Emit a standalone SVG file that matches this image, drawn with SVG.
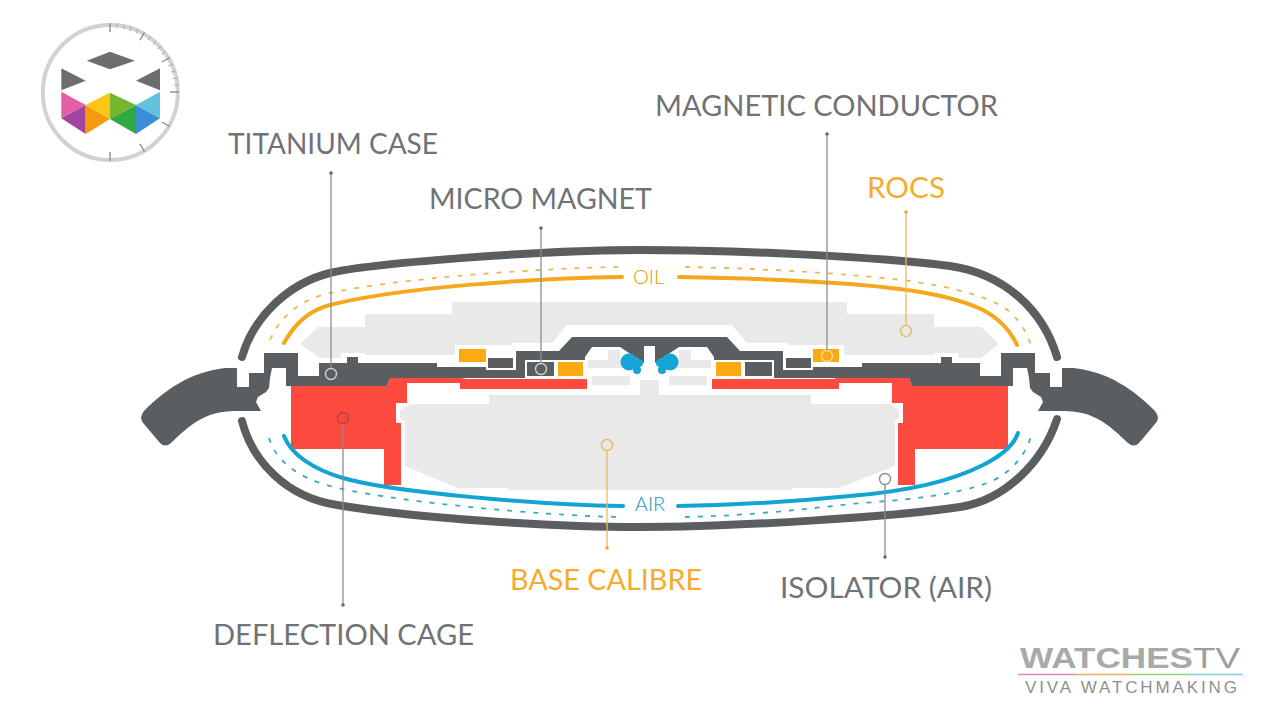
<svg xmlns="http://www.w3.org/2000/svg" width="1280" height="720" viewBox="0 0 1280 720">
<style>
text{font-family:"Lato","Liberation Sans",sans-serif}
.lab{font-size:28px;font-weight:400;fill:#707375}
.org{fill:#f6ab2e}
.dark{fill:#5b5e60}
.gray{fill:#e9e9e9}
.red{fill:#fd4a3f}
.orb{fill:#fca912}
.blu{fill:#12a5d6}
.case{fill:none;stroke:#5b5e60;stroke-width:8;stroke-linecap:round}
.so{fill:none;stroke:#f6a81c;stroke-width:4;stroke-linecap:round}
.sb{fill:none;stroke:#12a5d3;stroke-width:4;stroke-linecap:round}
.do{fill:none;stroke:#f1b44f;stroke-width:1.8;stroke-dasharray:5 8}
.db{fill:none;stroke:#3ba9c4;stroke-width:1.8;stroke-dasharray:5 8}
.lg{stroke:#8b8d8f;stroke-width:1.3;fill:none}
.lo{stroke:#edb85f;stroke-width:1.3;fill:none}
.tick{stroke:#8e8e8e;stroke-width:1.4}
.mt{stroke:#b0b0b0;stroke-width:1}
</style>
<rect width="1280" height="720" fill="#fff"/>

<g id="logo">
<circle cx="110.3" cy="92.5" r="67.5" fill="#fff" stroke="#d2d2d2" stroke-width="4"/>
<g class="mt">
<line x1="110" y1="23" x2="110" y2="28" transform="rotate(6 110 92)"/><line x1="110" y1="23" x2="110" y2="28" transform="rotate(12 110 92)"/><line x1="110" y1="23" x2="110" y2="28" transform="rotate(18 110 92)"/><line x1="110" y1="23" x2="110" y2="28" transform="rotate(24 110 92)"/><line x1="110" y1="23" x2="110" y2="28" transform="rotate(36 110 92)"/><line x1="110" y1="23" x2="110" y2="28" transform="rotate(42 110 92)"/><line x1="110" y1="23" x2="110" y2="28" transform="rotate(48 110 92)"/><line x1="110" y1="23" x2="110" y2="28" transform="rotate(54 110 92)"/><line x1="110" y1="23" x2="110" y2="28" transform="rotate(66 110 92)"/><line x1="110" y1="23" x2="110" y2="28" transform="rotate(72 110 92)"/><line x1="110" y1="23" x2="110" y2="28" transform="rotate(78 110 92)"/><line x1="110" y1="23" x2="110" y2="28" transform="rotate(84 110 92)"/>
</g>
<g class="tick">
<line x1="110" y1="23" x2="110" y2="32"/><line x1="110" y1="23" x2="110" y2="32" transform="rotate(30 110 92)"/><line x1="110" y1="23" x2="110" y2="32" transform="rotate(60 110 92)"/><line x1="110" y1="23" x2="110" y2="32" transform="rotate(90 110 92)"/><line x1="110" y1="23" x2="110" y2="32" transform="rotate(120 110 92)"/><line x1="110" y1="23" x2="110" y2="32" transform="rotate(150 110 92)"/><line x1="110" y1="23" x2="110" y2="32" transform="rotate(180 110 92)"/>
</g>
<g fill="#6d6d6d">
<polygon points="86.7,60.7 110,51.7 135,60.7 110,69.3"/>
<polygon points="61.3,68.3 85.7,80.7 61.3,90.3"/>
<polygon points="160,68.3 136,80.7 160,90.3"/>
</g>
<polygon points="61.3,91.7 85.7,105 61.3,118.3" fill="#e35fa8"/>
<polygon points="85.7,105 61.3,118.3 85.7,134" fill="#a2459e"/>
<polygon points="85.7,105 85.7,134 110,119" fill="#f79a12"/>
<polygon points="85.7,105 110,92.7 110,119" fill="#fcc614"/>
<polygon points="110,92.7 136,105 110,119" fill="#74b72e"/>
<polygon points="136,105 110,119 136,134" fill="#2fa940"/>
<polygon points="136,105 136,134 160,118.3" fill="#3c8ed6"/>
<polygon points="136,105 160,91.7 160,118.3" fill="#62c4dc"/>
</g>

<g id="base-calibre-body">
<path class="gray" d="M300,344 L318,327 H365 V314 H452 V302 H847 V314 H934 V327 H981 L999,344 L981,358 H958 V353 H934 V355 H844 V345 H788 V343 H747 L732,325 H567 L552,343 H511 V345 H455 V355 H365 V353 H341 V358 H320 Z"/>
<path class="gray" d="M489,395 H811 V404 H890 L899,410 V418 L895,421 V466 L839,488 H792 V490 H508 V488 H458 L405,466 V421 L400,418 V410 L411,404 H489 Z"/>
<rect class="gray" x="640" y="380" width="19" height="16"/>
<rect class="gray" x="592" y="376" width="38" height="9"/>
<rect class="gray" x="669" y="376" width="38" height="9"/>
<path class="gray" d="M588,360 H608 V350 H620 V360 H632 V368 H588 Z"/>
<path class="gray" d="M711,360 H691 V350 H679 V360 H667 V368 H711 Z"/>
</g>

<g id="deflection-cage">
<path class="red" d="M291,386 H387 L390,378 H462 L466,379 H587 V389 H460 V383 H407 V403 H396 V423 H401 V485 H384 V449 H291 Z"/>
<path class="red" d="M1008,386 H912 L909,378 H837 L833,379 H712 V389 H839 V383 H892 V403 H903 V423 H898 V485 H915 V449 H1008 Z"/>
</g>

<g id="titanium-case">
<path class="case" d="M242,357 C254,315 290,283 330,273 C365,264 540,250 640,250 C740,250 880,257 950,266 C1005,274 1043,310 1057,357"/>
<path class="case" d="M242,421 C252,460 285,497 337,505 C420,519 560,527 640,527 C740,527 900,516 960,507 C1005,500 1043,462 1057,419"/>
<path class="dark" d="M144,411 C165,390 190,372 225,368 H237 V387 H249 V373 H264 V353 H298 V376 H319 V363 H347 V357 H358 V363 H437 V367 H486 V370 H516 V351 H559 L572,337 H727 L740,351 H783 V370 H813 V367 H862 V363 H941 V357 H952 V363 H980 V376 H1001 V353 H1035 V373 H1050 V387 H1062 V368 H1074 C1109,372 1134,390 1155,411 Q1161,418 1155,424 L1139,443 Q1134,448 1128,443 C1109,425 1094,411 1064,411 H1038 L1043,402 1041,397 1033,392 1030,388 1029,378 1027,368 H1013 V386 H912 L909,378 H714 V357 L707,347 H679 L655,363 V346 H644 V363 L620,347 H592 L585,357 V378 H390 L387,386 H286 V368 H272 L270,378 269,388 266,392 258,397 256,402 261,411 H235 C205,411 190,425 171,443 Q165,448 160,443 L144,424 Q138,418 144,411 Z"/>
<rect x="525" y="360" width="60" height="18" fill="#fff"/>
<rect x="714" y="360" width="60" height="18" fill="#fff"/>
<rect class="dark" x="527" y="362" width="27" height="14"/>
<rect class="dark" x="745" y="362" width="27" height="14"/>
<rect class="dark" x="488" y="358" width="25" height="10"/>
<rect class="dark" x="786" y="358" width="25" height="10"/>
</g>

<g id="rocs-blocks">
<rect class="orb" x="459" y="349" width="27" height="13"/>
<rect class="orb" x="813" y="349" width="26" height="13"/>
<rect class="orb" x="558" y="362" width="25" height="14"/>
<rect class="orb" x="716" y="362" width="25" height="14"/>
</g>

<g id="blue-parts">
<circle class="blu" cx="629" cy="362" r="8.5"/>
<circle class="blu" cx="639" cy="363" r="4"/>
<circle class="blu" cx="637" cy="370" r="4"/>
<circle class="blu" cx="670" cy="362" r="8.5"/>
<circle class="blu" cx="660" cy="363" r="4"/>
<circle class="blu" cx="662" cy="370" r="4"/>
</g>

<g id="oil-lines">
<path class="do" d="M270,340 C283,311 305,299 330,293 C400,278 540,268 623,267"/>
<path class="do" d="M685,267 C740,268 800,271 850,275 C900,279 960,285 1000,305 C1016,314 1026,330 1031,345"/>
<path class="so" d="M284,343 C295,323 310,310 330,305 C400,287 540,278 622,277"/>
<path class="so" d="M679,277 C740,278 800,280 850,284 C900,288 950,294 983,310 C1000,319 1011,332 1017,345"/>
<text x="648.5" y="284" text-anchor="middle" font-size="20" fill="#e8960a" style="font-weight:300">OIL</text>
</g>

<g id="air-lines">
<path class="db" d="M269,438 C276,462 300,478 330,486 C380,500 540,516 623,517"/>
<path class="db" d="M685,517 C740,516 800,510 850,504 C900,500 950,497 990,482 C1012,472 1026,455 1032,433"/>
<path class="sb" d="M284,436 C291,455 315,470 343,478 C390,492 540,505 623,506"/>
<path class="sb" d="M678,506 C740,505 800,501 850,496 C900,492 950,482 983,465 C1003,455 1014,445 1018,433"/>
<text x="650" y="511" text-anchor="middle" font-size="20" fill="#1a94be" style="font-weight:300">AIR</text>
</g>

<g id="connectors">
<line class="lg" x1="331" y1="173" x2="331" y2="368"/><circle cx="331" cy="173" r="1.8" fill="#66696b"/><circle cx="331" cy="374" r="5.5" fill="none" stroke="#cfd0d1" stroke-width="1.4"/>
<line class="lg" x1="541" y1="228" x2="541" y2="363"/><circle cx="541" cy="228" r="1.8" fill="#66696b"/><circle cx="541" cy="369" r="5.5" fill="none" stroke="#cfd0d1" stroke-width="1.4"/>
<line class="lg" x1="827" y1="134" x2="827" y2="350"/><circle cx="827" cy="134" r="1.8" fill="#66696b"/><circle cx="827" cy="356" r="5.5" fill="none" stroke="#f7dc9e" stroke-width="1.4"/>
<line class="lo" x1="906" y1="212" x2="906" y2="325"/><circle cx="906" cy="212" r="1.8" fill="#f5a623"/><circle cx="906" cy="331" r="5.5" fill="none" stroke="#edb85f" stroke-width="1.4"/>
<line class="lo" x1="607" y1="451" x2="607" y2="548"/><circle cx="607" cy="548" r="1.8" fill="#f5a623"/><circle cx="607" cy="445" r="5.5" fill="none" stroke="#edb85f" stroke-width="1.4"/>
<line class="lg" x1="885" y1="485" x2="885" y2="557"/><circle cx="885" cy="557" r="1.8" fill="#66696b"/><circle cx="885" cy="479" r="5.5" fill="none" stroke="#8b8d8f" stroke-width="1.4"/>
<line class="lg" x1="343" y1="424" x2="343" y2="605"/><circle cx="343" cy="605" r="1.8" fill="#66696b"/><circle cx="343" cy="418" r="5.5" fill="none" stroke="#a9483f" stroke-width="1.4"/>
</g>

<g id="label-titanium-case"><text class="lab" x="228" y="154" textLength="210" lengthAdjust="spacingAndGlyphs">TITANIUM CASE</text></g>
<g id="label-micro-magnet"><text class="lab" x="429" y="209" textLength="223" lengthAdjust="spacingAndGlyphs">MICRO MAGNET</text></g>
<g id="label-magnetic-conductor"><text class="lab" x="655" y="116" textLength="343" lengthAdjust="spacingAndGlyphs">MAGNETIC CONDUCTOR</text></g>
<g id="label-rocs"><text class="lab org" x="867" y="198" textLength="78" lengthAdjust="spacingAndGlyphs">ROCS</text></g>
<g id="label-base-calibre"><text class="lab org" x="510" y="590" textLength="192" lengthAdjust="spacingAndGlyphs">BASE CALIBRE</text></g>
<g id="label-isolator"><text class="lab" x="780" y="598" textLength="212" lengthAdjust="spacingAndGlyphs">ISOLATOR (AIR)</text></g>
<g id="label-deflection-cage"><text class="lab" x="213" y="645" textLength="261" lengthAdjust="spacingAndGlyphs">DEFLECTION CAGE</text></g>

<g id="watermark">
<text x="1020" y="668" font-size="29" style="font-family:'Liberation Sans',sans-serif;font-weight:700" fill="#a7a9ab" textLength="173" lengthAdjust="spacingAndGlyphs">WATCHES</text>
<text x="1193" y="668" font-size="29" style="font-family:'Liberation Sans',sans-serif" fill="#9b9d9f" textLength="47" lengthAdjust="spacingAndGlyphs">TV</text>
<line x1="1018" y1="674.5" x2="1075" y2="674.5" stroke="#d98ab8" stroke-width="1.5"/>
<line x1="1075" y1="674.5" x2="1132" y2="674.5" stroke="#e8ad6e" stroke-width="1.5"/>
<line x1="1132" y1="674.5" x2="1188" y2="674.5" stroke="#92cf78" stroke-width="1.5"/>
<line x1="1188" y1="674.5" x2="1243" y2="674.5" stroke="#7ccfdc" stroke-width="1.5"/>
<text x="1025" y="693" font-size="17" style="font-family:'Liberation Sans',sans-serif" fill="#8e9092" textLength="212">VIVA WATCHMAKING</text>
</g>
</svg>
